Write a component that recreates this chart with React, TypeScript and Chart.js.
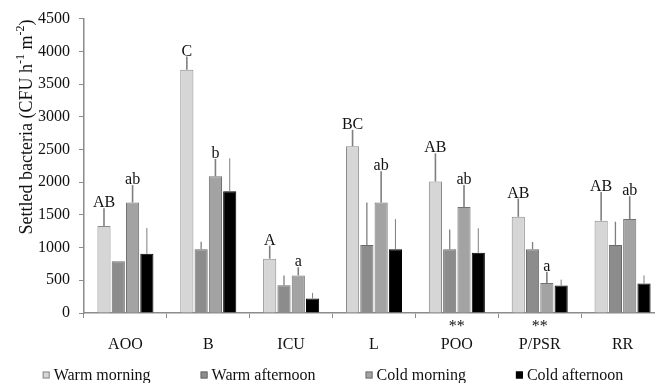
import { useEffect, useRef } from 'react';
import { Chart, registerables } from 'chart.js';

Chart.register(...registerables);

const categories = ['AOO', 'B', 'ICU', 'L', 'POO', 'P/PSR', 'RR'];
const significance = ['', '', '', '', '**', '**', ''];
const seriesNames = ['Warm morning', 'Warm afternoon', 'Cold morning', 'Cold afternoon'];

const warmMorning = [1330, 3720, 830, 2550, 2010, 1470, 1410];
const warmMorningErr = [270, 200, 200, 250, 430, 280, 440];
const warmAfternoon = [790, 975, 425, 1040, 975, 975, 1040];
const warmAfternoonErr = [0, 115, 150, 650, 300, 110, 355];
const coldMorning = [1690, 2090, 575, 1690, 1620, 460, 1435];
const coldMorningErr = [265, 265, 125, 475, 335, 170, 350];
const coldAfternoon = [905, 1860, 222, 975, 920, 420, 450];
const coldAfternoonErr = [395, 505, 85, 460, 375, 90, 125];

const warmMorningLetters = ['AB', 'C', 'A', 'BC', 'AB', 'AB', 'AB'];
const coldMorningLetters = ['ab', 'b', 'a', 'ab', 'ab', 'a', 'ab'];

const yMin = 0;
const yMax = 4500;
const yStep = 500;

const FONT = '"Liberation Serif", "Times New Roman", serif';
const fills = ['#d6d6d6', '#8c8c8c', '#a3a3a3', '#000000'];
const borders = ['#8a8a8a', '#6a6a6a', '#727272', '#000000'];
const errWidths = [1.6, 1.3, 1.6, 1];

const seriesValues = [warmMorning, warmAfternoon, coldMorning, coldAfternoon];
const seriesErrors = [warmMorningErr, warmAfternoonErr, coldMorningErr, coldAfternoonErr];
const seriesLetters: (string[] | null)[] = [warmMorningLetters, null, coldMorningLetters, null];

const errorPlugin = {
  id: 'errorBarsLetters',
  afterDatasetsDraw(chart: any) {
    const ctx = chart.ctx;
    const yScale = chart.scales.y;
    ctx.save();
    chart.data.datasets.forEach((_ds: any, di: number) => {
      const meta = chart.getDatasetMeta(di);
      meta.data.forEach((el: any, i: number) => {
        const v = seriesValues[di][i];
        const e = seriesErrors[di][i];
        const top = yScale.getPixelForValue(v + e);
        if (e > 0) {
          ctx.strokeStyle = '#7f7f7f';
          ctx.lineWidth = errWidths[di];
          ctx.beginPath();
          ctx.moveTo(el.x, el.y);
          ctx.lineTo(el.x, top);
          ctx.stroke();
        }
        const letters = seriesLetters[di];
        if (letters && letters[i]) {
          ctx.fillStyle = '#111';
          ctx.font = `16px ${FONT}`;
          ctx.textAlign = 'center';
          ctx.textBaseline = 'alphabetic';
          ctx.fillText(letters[i], el.x, top - 1);
        }
      });
    });
    ctx.restore();
  },
};

const titlePlugin = {
  id: 'yTitle',
  afterDraw(chart: any) {
    const ctx = chart.ctx;
    const parts: [string, boolean][] = [
      ['Settled bacteria (CFU h', false],
      ['-1', true],
      [' m', false],
      ['-2', true],
      [')', false],
    ];
    ctx.save();
    const big = `18px ${FONT}`;
    const small = `12px ${FONT}`;
    let total = 0;
    parts.forEach(([t, sup]) => {
      ctx.font = sup ? small : big;
      total += ctx.measureText(t).width;
    });
    ctx.translate(27, 127);
    ctx.rotate(-Math.PI / 2);
    ctx.fillStyle = '#111';
    ctx.textBaseline = 'middle';
    ctx.textAlign = 'left';
    let x = -total / 2;
    parts.forEach(([t, sup]) => {
      ctx.font = sup ? small : big;
      ctx.fillText(t, x, sup ? -6 : 0);
      x += ctx.measureText(t).width;
    });
    ctx.restore();
  },
};

const legendPlugin = {
  id: 'spacedLegend',
  afterDraw(chart: any) {
    const ctx = chart.ctx;
    const box = 7;
    const boxGap = 4;
    const itemGap = 50;
    ctx.save();
    ctx.font = `16px ${FONT}`;
    const widths = seriesNames.map((n) => ctx.measureText(n).width);
    const total = widths.reduce((a, w) => a + box + boxGap + w, 0) + itemGap * (seriesNames.length - 1);
    let x = 333 - total / 2;
    const y = 375;
    seriesNames.forEach((n, i) => {
      ctx.fillStyle = fills[i];
      ctx.fillRect(x, y - box / 2, box, box);
      ctx.strokeStyle = borders[i];
      ctx.lineWidth = 1;
      ctx.strokeRect(x + 0.5, y - box / 2 + 0.5, box - 1, box - 1);
      ctx.fillStyle = '#111';
      ctx.textAlign = 'left';
      ctx.textBaseline = 'middle';
      ctx.fillText(n, x + box + boxGap, y + 1);
      x += box + boxGap + widths[i] + itemGap;
    });
    ctx.restore();
  },
};

export default function App() {
  const ref = useRef<HTMLCanvasElement | null>(null);

  useEffect(() => {
    if (!ref.current) return;
    const chart = new Chart(ref.current, {
      type: 'bar',
      data: {
        labels: categories.map((c, i) => [significance[i], c]),
        datasets: seriesNames.map((name, i) => ({
          label: name,
          data: seriesValues[i],
          backgroundColor: fills[i],
          borderColor: borders[i],
          borderWidth: 1,
          categoryPercentage: 0.69,
          barPercentage: 0.92,
        })),
      },
      options: {
        responsive: false,
        animation: false,
        devicePixelRatio: 1,
        layout: { padding: { left: 0, right: 16, top: 16, bottom: 28 } },
        plugins: {
          legend: { display: false },
          tooltip: { enabled: false },
        },
        scales: {
          x: {
            grid: { drawOnChartArea: false, drawTicks: true, tickLength: 5, color: '#8c8c8c' },
            border: { display: true, color: '#8c8c8c', width: 1.5 },
            ticks: {
              color: '#111',
              font: { family: FONT, size: 16, lineHeight: 1.1 },
              padding: 0,
              maxRotation: 0,
              autoSkip: false,
            },
            afterFit: (s: any) => {
              s.height = 42;
            },
          },
          y: {
            min: yMin,
            max: yMax,
            grid: { drawOnChartArea: false, drawTicks: true, tickLength: 5, color: '#8c8c8c' },
            border: { display: true, color: '#8c8c8c', width: 1.5 },
            ticks: {
              stepSize: yStep,
              color: '#111',
              font: { family: FONT, size: 16 },
              padding: 9,
              callback: (v: any) => String(v),
            },
            afterFit: (s: any) => {
              s.width = 84;
            },
          },
        },
      },
      plugins: [errorPlugin, titlePlugin, legendPlugin],
    });
    return () => chart.destroy();
  }, []);

  return (
    <div style={{ position: 'fixed', left: 0, top: 0, width: 655, height: 383, overflow: 'hidden', background: '#fff' }}>
      <canvas ref={ref} width={680} height={383} style={{ width: 680, height: 383, display: 'block' }} />
    </div>
  );
}
